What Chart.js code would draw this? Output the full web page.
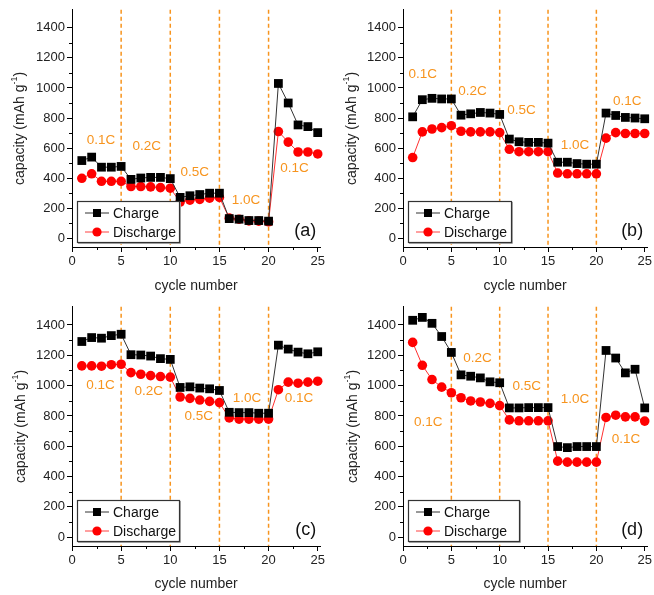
<!DOCTYPE html>
<html>
<head>
<meta charset="utf-8">
<script src="https://cdn.jsdelivr.net/npm/chart.js@4.4.0/dist/chart.umd.min.js"></script>
<style>
  html, body { margin: 0; padding: 0; background: #fff; }
  #wrap { position: relative; width: 654px; height: 595px; }
  .panel { position: absolute; }
</style>
</head>
<body>
<div id="wrap">
  <div class="panel" style="left:0;top:0"><canvas id="chartA" width="327" height="297"></canvas></div>
  <div class="panel" style="left:327px;top:0"><canvas id="chartB" width="327" height="297"></canvas></div>
  <div class="panel" style="left:0;top:297px"><canvas id="chartC" width="327" height="298"></canvas></div>
  <div class="panel" style="left:327px;top:297px"><canvas id="chartD" width="327" height="298"></canvas></div>
</div>
<script>
// cycle index and axis ticks
const cycles = [1, 2, 3, 4, 5, 6, 7, 8, 9, 10, 11, 12, 13, 14, 15, 16, 17, 18, 19, 20, 21, 22, 23, 24, 25];
const xTicks = [0, 5, 10, 15, 20, 25];
const yTicks = [0, 200, 400, 600, 800, 1000, 1200, 1400];
const rateSwitches = [5, 10, 15, 20];
const rateNames = ['0.1C', '0.2C', '0.5C', '1.0C', '0.1C'];

// capacities (mAh/g)
const chargeA = [517, 540, 473, 473, 478, 392, 401, 405, 405, 397, 272, 283, 291, 300, 300, 131, 127, 118, 118, 114, 1030, 900, 754, 743, 703];
const dischargeA = [399, 429, 379, 379, 379, 344, 344, 342, 337, 333, 241, 254, 259, 267, 272, 134, 127, 116, 114, 110, 710, 640, 574, 574, 561];

const chargeB = [808, 922, 931, 927, 927, 819, 828, 837, 833, 824, 660, 642, 638, 638, 633, 506, 506, 497, 493, 493, 833, 817, 804, 800, 795];
const dischargeB = [537, 708, 727, 736, 749, 712, 708, 708, 708, 703, 592, 576, 576, 576, 576, 434, 429, 429, 429, 429, 666, 703, 697, 697, 697];

const chargeC = [1291, 1317, 1313, 1330, 1339, 1204, 1202, 1195, 1178, 1173, 988, 992, 984, 979, 968, 824, 822, 822, 818, 818, 1267, 1241, 1221, 1210, 1223];
const dischargeC = [1130, 1130, 1128, 1138, 1141, 1086, 1075, 1066, 1060, 1056, 925, 916, 905, 896, 888, 787, 779, 779, 779, 779, 973, 1023, 1016, 1023, 1029];

const chargeD = [1431, 1450, 1411, 1324, 1219, 1071, 1062, 1051, 1025, 1019, 853, 853, 855, 855, 855, 598, 591, 598, 598, 598, 1232, 1182, 1084, 1108, 853];
const dischargeD = [1285, 1134, 1040, 990, 953, 920, 899, 892, 883, 868, 774, 768, 768, 768, 768, 502, 495, 495, 495, 495, 790, 805, 794, 794, 766];

const FONT = "'Liberation Sans', Arial, sans-serif";
const ORANGE = 'rgb(247,148,30)';

const panels = [
  { id: 'chartA', tag: '(a)', charge: chargeA, discharge: dischargeA, w: 327, h: 297,
    area: { left: 72, right: 323, top: 7, bottom: 247 }, titleX: 20, legendW: 102,
    rateAt: [[2.95, 655], [7.6, 611], [12.5, 436], [17.7, 250], [22.65, 469]] },
  { id: 'chartB', tag: '(b)', charge: chargeB, discharge: dischargeB, w: 327, h: 297,
    area: { left: 76, right: 323, top: 7, bottom: 247 }, titleX: 25, legendW: 103,
    rateAt: [[2.04, 1093], [7.2, 977], [12.26, 852], [17.8, 622], [23.2, 911]] },
  { id: 'chartC', tag: '(c)', charge: chargeC, discharge: dischargeC, w: 327, h: 298,
    area: { left: 72, right: 322, top: 8, bottom: 249 }, titleX: 21, legendW: 102,
    rateAt: [[2.9, 1001], [7.8, 964], [12.9, 800], [17.8, 916], [23.1, 916]] },
  { id: 'chartD', tag: '(d)', charge: chargeD, discharge: dischargeD, w: 327, h: 298,
    area: { left: 76, right: 323, top: 8, bottom: 249 }, titleX: 26, legendW: 111,
    rateAt: [[2.6, 757], [7.7, 1182], [12.8, 997], [17.8, 910], [23.06, 648]] }
];

function makeDecor(p) {
  return {
    id: 'decor',
    beforeDatasetsDraw(chart) {
      const { ctx, chartArea: a, scales: { x } } = chart;
      ctx.save();
      ctx.strokeStyle = ORANGE;
      ctx.lineWidth = 1.5;
      ctx.setLineDash([4, 3]);
      rateSwitches.forEach(v => {
        const px = x.getPixelForValue(v);
        ctx.beginPath();
        ctx.moveTo(px, a.top);
        ctx.lineTo(px, a.bottom);
        ctx.stroke();
      });
      ctx.restore();
    },
    afterDraw(chart) {
      const { ctx, chartArea: a, scales: { x, y } } = chart;
      ctx.save();

      // minor ticks
      ctx.strokeStyle = '#000';
      ctx.lineWidth = 1;
      for (let v = 100; v < 1500; v += 200) {
        const py = Math.round(y.getPixelForValue(v)) + 0.5;
        ctx.beginPath(); ctx.moveTo(a.left, py); ctx.lineTo(a.left - 3, py); ctx.stroke();
      }
      for (let v = 2.5; v < 25; v += 5) {
        const px = Math.round(x.getPixelForValue(v)) + 0.5;
        ctx.beginPath(); ctx.moveTo(px, a.bottom); ctx.lineTo(px, a.bottom + 3); ctx.stroke();
      }

      // rate labels
      ctx.fillStyle = ORANGE;
      ctx.font = '13.5px ' + FONT;
      ctx.textAlign = 'center';
      ctx.textBaseline = 'middle';
      p.rateAt.forEach((pt, i) => {
        ctx.fillText(rateNames[i], x.getPixelForValue(pt[0]), y.getPixelForValue(pt[1]));
      });

      // legend box
      const bx = a.left + 5, bh = 41, by = a.bottom - bh - 5, bw = p.legendW;
      ctx.fillStyle = '#fff';
      ctx.fillRect(bx, by, bw, bh);
      ctx.strokeStyle = '#aaa';
      ctx.lineWidth = 1;
      ctx.beginPath(); ctx.moveTo(bx + 1, by + bh + 1.5); ctx.lineTo(bx + bw + 1.5, by + bh + 1.5); ctx.lineTo(bx + bw + 1.5, by + 1); ctx.stroke();
      ctx.strokeStyle = '#333';
      ctx.lineWidth = 1.2;
      ctx.strokeRect(bx + 0.5, by + 0.5, bw, bh);

      const rows = [
        { text: 'Charge', line: '#333', fill: '#000', shape: 'rect' },
        { text: 'Discharge', line: '#ff4040', fill: '#ff0000', shape: 'circle' }
      ];
      rows.forEach((r, i) => {
        const cy = by + 12 + i * 19;
        ctx.strokeStyle = r.line;
        ctx.lineWidth = 1;
        ctx.beginPath(); ctx.moveTo(bx + 8, cy); ctx.lineTo(bx + 32, cy); ctx.stroke();
        ctx.fillStyle = r.fill;
        if (r.shape === 'rect') {
          ctx.fillRect(bx + 16, cy - 4, 8, 8);
        } else {
          ctx.beginPath(); ctx.arc(bx + 20, cy, 4.6, 0, Math.PI * 2); ctx.fill();
        }
        ctx.fillStyle = '#111';
        ctx.font = '14px ' + FONT;
        ctx.textAlign = 'left';
        ctx.textBaseline = 'middle';
        ctx.fillText(r.text, bx + 36, cy + 1);
      });

      // panel tag
      ctx.fillStyle = '#111';
      ctx.font = '18px ' + FONT;
      ctx.textAlign = 'right';
      ctx.textBaseline = 'middle';
      ctx.fillText(p.tag, a.right - 4, a.bottom - 16);

      // y title with superscript
      ctx.translate(p.titleX, (a.top + a.bottom) / 2);
      ctx.rotate(-Math.PI / 2);
      ctx.fillStyle = '#222';
      ctx.textBaseline = 'middle';
      ctx.textAlign = 'left';
      const main = 'capacity (mAh g', sup = '-1', end = ')';
      ctx.font = '14px ' + FONT;
      const w1 = ctx.measureText(main).width, w3 = ctx.measureText(end).width;
      ctx.font = '9px ' + FONT;
      const w2 = ctx.measureText(sup).width;
      let tx = -(w1 + w2 + w3) / 2;
      ctx.font = '14px ' + FONT;
      ctx.fillText(main, tx, 0);
      ctx.font = '9px ' + FONT;
      ctx.fillText(sup, tx + w1, -5);
      ctx.font = '14px ' + FONT;
      ctx.fillText(end, tx + w1 + w2, 0);

      ctx.restore();
    }
  };
}

panels.forEach(p => {
  const ctx = document.getElementById(p.id).getContext('2d');
  new Chart(ctx, {
    type: 'line',
    data: {
      datasets: [
        {
          label: 'Charge',
          data: cycles.map((c, i) => ({ x: c, y: p.charge[i] })),
          borderColor: '#333',
          borderWidth: 1,
          pointStyle: 'rect',
          pointRadius: 6.2,
          pointBorderWidth: 0,
          pointBackgroundColor: '#000',
          tension: 0
        },
        {
          label: 'Discharge',
          data: cycles.map((c, i) => ({ x: c, y: p.discharge[i] })),
          borderColor: '#ff3030',
          borderWidth: 1,
          pointStyle: 'circle',
          pointRadius: 4.8,
          pointBorderWidth: 0,
          pointBackgroundColor: '#ff0000',
          tension: 0
        }
      ]
    },
    options: {
      responsive: false,
      animation: false,
      devicePixelRatio: 1,
      clip: false,
      layout: { padding: { left: 0, top: p.area.top, right: p.w - p.area.right, bottom: 0 } },
      plugins: { legend: { display: false }, tooltip: { enabled: false } },
      scales: {
        x: {
          type: 'linear',
          min: 0,
          max: 25.25,
          afterFit: s => { s.height = p.h - p.area.bottom; },
          afterBuildTicks: s => { s.ticks = xTicks.map(v => ({ value: v })); },
          grid: { drawOnChartArea: false, drawTicks: true, tickLength: 5, color: '#000' },
          border: { display: true, color: '#000', width: 1 },
          ticks: { color: '#222', font: { family: FONT, size: 13 }, padding: 2, maxRotation: 0, autoSkip: false, callback: v => String(v) },
          title: { display: true, text: 'cycle number', color: '#222', font: { family: FONT, size: 14 }, padding: { top: 0, bottom: 2 } }
        },
        y: {
          type: 'linear',
          min: -58,
          max: 1520,
          afterFit: s => { s.width = p.area.left; },
          afterBuildTicks: s => { s.ticks = yTicks.map(v => ({ value: v })); },
          grid: { drawOnChartArea: false, drawTicks: true, tickLength: 5, color: '#000' },
          border: { display: true, color: '#000', width: 1 },
          ticks: { color: '#222', font: { family: FONT, size: 13 }, padding: 2, autoSkip: false, callback: v => String(v) },
          title: { display: false }
        }
      }
    },
    plugins: [makeDecor(p)]
  });
});
</script>
</body>
</html>
